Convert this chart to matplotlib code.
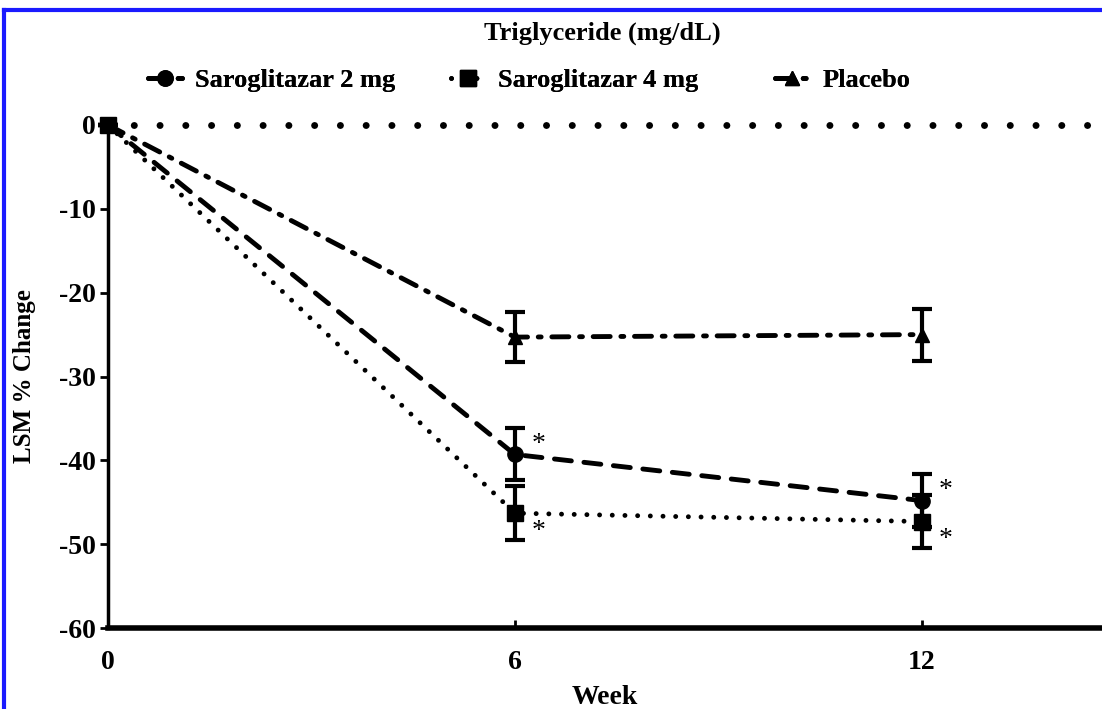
"""Triglyceride LSM % change by week, three treatment arms."""

import matplotlib

matplotlib.use("Agg")
import matplotlib.pyplot as plt  # noqa: E402
from matplotlib.lines import Line2D  # noqa: E402

weeks = [0, 6, 12]
saro2_mean = [0, -39.3, -44.8]
saro2_err = [0, 3.1, 3.2]
saro4_mean = [0, -46.3, -47.3]
saro4_err = [0, 3.2, 3.2]
placebo_mean = [0, -25.3, -25.0]
placebo_err = [0, 3.0, 3.1]

x_ticks = [0, 6, 12]
y_ticks = [0, -10, -20, -30, -40, -50, -60]

plt.rcParams["font.family"] = ["Liberation Serif", "DejaVu Serif"]
plt.rcParams["font.weight"] = "bold"
plt.rcParams["axes.unicode_minus"] = False

fig = plt.figure(figsize=(11.02, 7.09), dpi=100)
ax = fig.add_axes([0.098, 0.1142, 0.902, 0.7095])

# zero reference line with big dots
ax.axhline(0, color="black", lw=5, linestyle=(0, (0.01, 3.7)),
           dash_capstyle="round", clip_on=False, zorder=1)

common = dict(color="black", capsize=7, elinewidth=3, capthick=3,
              clip_on=False, zorder=3)
pla = ax.errorbar(weeks, placebo_mean, yerr=placebo_err, marker="^", ms=10,
                  lw=3.5, linestyle=(0, (3.5, 2.2, 0.6, 2.2)),
                  dash_capstyle="round", label="Placebo", **common)
s2 = ax.errorbar(weeks, saro2_mean, yerr=saro2_err, marker="o", ms=11,
                 lw=3.5, linestyle=(0, (3.5, 2.6)), dash_capstyle="round",
                 label="Saroglitazar 2 mg", **common)
s4 = ax.errorbar(weeks, saro4_mean, yerr=saro4_err, marker="s", ms=11,
                 lw=3.5, linestyle=(0, (0.01, 2.6)), dash_capstyle="round",
                 label="Saroglitazar 4 mg", **common)

# significance stars
for ys, dy in [(saro2_mean[1:], 7), (saro4_mean[1:], -13)]:
    for x, y in zip(weeks[1:], ys):
        ax.annotate("*", (x, y), xytext=(12, dy), textcoords="offset points",
                    fontsize=20, fontweight="normal", ha="left", va="center")

ax.set_xlim(0, 14.66)
ax.set_ylim(-60, 0)
ax.set_xticks(x_ticks)
ax.set_yticks(y_ticks)
ax.tick_params(axis="y", direction="out", length=6, width=2, labelsize=20, pad=3)
ax.tick_params(axis="x", direction="in", length=6, width=2, labelsize=20, pad=16)
for side in ("top", "right"):
    ax.spines[side].set_visible(False)
ax.spines["left"].set_linewidth(2.5)
ax.spines["bottom"].set_linewidth(4)

ax.set_xlabel("Week", fontsize=20, fontweight="bold", labelpad=7)
ax.set_ylabel("LSM % Change", fontsize=18, fontweight="bold", labelpad=16)
fig.text(0.547, 0.953, "Triglyceride (mg/dL)", fontsize=19, fontweight="bold",
         ha="center", va="center")

# one legend per entry so each sits where the reference puts it
entries = [(s2, "Saroglitazar 2 mg", 0.134), (s4, "Saroglitazar 4 mg", 0.409),
           (pla, "Placebo", 0.703)]
for cont, label, x0 in entries:
    leg = fig.legend([cont[0]], [label], loc="center left",
                     bbox_to_anchor=(x0, 0.887), frameon=False, fontsize=19,
                     handlelength=1.3, handletextpad=0.5, borderaxespad=0,
                     borderpad=0)
    fig.add_artist(leg)

# blue frame edges
fig.add_artist(Line2D([0.004, 1], [0.986, 0.986], color="#1a1aff", lw=3,
                      transform=fig.transFigure))
fig.add_artist(Line2D([0.004, 0.004], [0, 0.986], color="#1a1aff", lw=3,
                      transform=fig.transFigure))

fig.savefig("out.png", dpi=100)
